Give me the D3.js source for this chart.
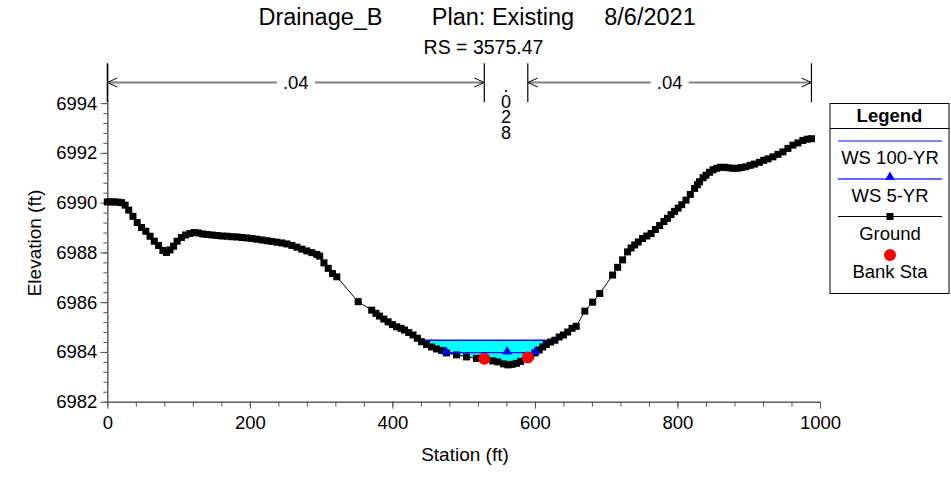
<!DOCTYPE html>
<html><head><meta charset="utf-8">
<script src="https://cdn.jsdelivr.net/npm/d3@7"></script>
<style>body{margin:0;background:#fff}svg{display:block;font-family:"Liberation Sans",Arial,sans-serif}</style>
</head><body><svg id="c" width="951" height="477"></svg>
<script>
// ---- data ----
const groundSta = [0,5,10,15,20,25,30,36,42,48,54,60,66,72,78,83,88,93,98,104,110,116,122,128,134,140,147,154,161,168,175,182,189,196,203,210,217,224,231,238,245,252,259,266,273,280,287,294,298,304,310,316,322,352,371,377,382,388,394,400,406,412,417,423,429,435,441,448,455,462,469,476,490,504,518,530,541,548,556,562,568,574,580,588,594,600,606,611,616,622,628,634,640,646,652,658,670,681,691,709,716,723,730,735,740,745,751,757,763,769,775,781,786,791,796,801,806,812,818,824,828,831,836,840,845,850,855,860,866,872,878,884,890,896,902,908,915,921,927,934,941,948,955,962,969,976,982,988];
const groundElev = [6990.03,6990.03,6990.03,6990.02,6990.0,6989.9,6989.7,6989.45,6989.2,6989.0,6988.85,6988.65,6988.45,6988.28,6988.08,6988.0,6988.1,6988.25,6988.45,6988.6,6988.7,6988.76,6988.8,6988.78,6988.74,6988.72,6988.7,6988.68,6988.66,6988.65,6988.63,6988.62,6988.6,6988.58,6988.56,6988.53,6988.5,6988.47,6988.44,6988.41,6988.38,6988.34,6988.28,6988.21,6988.13,6988.06,6987.99,6987.92,6987.85,6987.58,6987.36,6987.15,6987.02,6986.02,6985.68,6985.55,6985.44,6985.32,6985.21,6985.1,6985.01,6984.95,6984.88,6984.78,6984.68,6984.55,6984.41,6984.3,6984.2,6984.12,6984.06,6983.96,6983.88,6983.8,6983.74,6983.72,6983.64,6983.6,6983.52,6983.48,6983.5,6983.54,6983.62,6983.74,6983.85,6983.96,6984.08,6984.2,6984.3,6984.4,6984.47,6984.6,6984.68,6984.8,6984.95,6985.03,6985.64,6986.0,6986.35,6987.09,6987.4,6987.7,6988.02,6988.18,6988.3,6988.42,6988.56,6988.66,6988.76,6988.92,6989.08,6989.24,6989.37,6989.52,6989.65,6989.78,6989.92,6990.1,6990.33,6990.57,6990.72,6990.84,6991.0,6991.1,6991.22,6991.32,6991.38,6991.42,6991.42,6991.4,6991.38,6991.38,6991.41,6991.44,6991.5,6991.55,6991.62,6991.7,6991.76,6991.84,6991.94,6992.04,6992.18,6992.31,6992.4,6992.5,6992.55,6992.57];
const bankSta = [529, 590];
const ws100Elev = 6984.47;
const ws5Elev = 6983.97;
const ws5MidMarkerSta = [561];
const nValues = [".04", ".028", ".04"];
const nBreakSta = [0, 529, 590, 988];
const xTickValues = [0, 200, 400, 600, 800, 1000];
const yTickValues = [6982, 6984, 6986, 6988, 6990, 6992, 6994];
const legendLabels = ["WS 100-YR", "WS 5-YR", "Ground", "Bank Sta"];
const titleParts = ["Drainage_B", "Plan: Existing", "8/6/2021"];
const subtitle = "RS = 3575.47";

// ---- setup ----
const svg = d3.select("#c");
const x = d3.scaleLinear().domain([0, 1000]).range([107.3, 820]);
const y = d3.scaleLinear().domain([6982, 6995.6]).range([401.7, 63.3]);
const ground = groundSta.map((s, i) => ({s, e: groundElev[i]}));
const groundAt = s => {
  for (let i = 0; i < ground.length - 1; i++) {
    const a = ground[i], b = ground[i+1];
    if (s >= a.s && s <= b.s) return a.e + (b.e - a.e) * (s - a.s) / (b.s - a.s);
  }
  return ground[ground.length-1].e;
};

function wetSection(w) {
  let imin = 0;
  ground.forEach((p, i) => { if (p.e < ground[imin].e) imin = i; });
  let li = imin; while (li > 0 && ground[li-1].e < w) li--;
  let ri = imin; while (ri < ground.length-1 && ground[ri+1].e < w) ri++;
  const a = ground[li-1], b = ground[li];
  const sl = a.s + (w - a.e) * (b.s - a.s) / (b.e - a.e);
  const c = ground[ri], d = ground[ri+1];
  const sr = c.s + (w - c.e) * (d.s - c.s) / (d.e - c.e);
  const pts = [{s: sl, e: w}].concat(ground.slice(li, ri+1)).concat([{s: sr, e: w}]);
  return {sl, sr, pts};
}

// ---- title ----
const tx = [320.5, 503, 650];
titleParts.forEach((t, i) => svg.append("text").attr("x", tx[i]).attr("y", 25)
  .attr("text-anchor", "middle").attr("font-size", 23.5).attr("fill", "#000").text(t));
svg.append("text").attr("x", 483.5).attr("y", 54).attr("text-anchor", "middle")
  .attr("font-size", 19.5).text(subtitle);

// ---- axes ----
const yMinor = d3.range(6982, 6994.01, 0.4);
const xMinor = d3.range(0, 1000.1, 40);
svg.append("g").attr("transform", "translate(107.3,0)")
  .call(d3.axisLeft(y).tickValues(yMinor).tickSize(4).tickSizeOuter(0).tickFormat(""))
  .call(g => g.selectAll("path,line").attr("stroke", "#555"));
svg.append("g").attr("transform", "translate(107.3,0)")
  .call(d3.axisLeft(y).tickValues(yTickValues).tickSize(7).tickSizeOuter(0).tickPadding(3).tickFormat(d3.format("d")))
  .call(g => { g.selectAll("path,line").attr("stroke", "#555");
    g.selectAll("text").attr("font-size", 18.5).attr("fill", "#000").attr("font-family", "Liberation Sans, Arial"); });
svg.append("g").attr("transform", "translate(0,401.7)")
  .call(d3.axisBottom(x).tickValues(xMinor).tickSize(5).tickSizeOuter(0).tickFormat(""))
  .call(g => g.selectAll("path,line").attr("stroke", "#555"));
svg.append("g").attr("transform", "translate(0,401.7)")
  .call(d3.axisBottom(x).tickValues(xTickValues).tickSize(7).tickSizeOuter(0).tickPadding(7).tickFormat(d3.format("d")))
  .call(g => { g.selectAll("path,line").attr("stroke", "#555");
    g.selectAll("text").attr("font-size", 18.5).attr("fill", "#000").attr("font-family", "Liberation Sans, Arial"); });

svg.append("text").attr("x", 465).attr("y", 461).attr("text-anchor", "middle")
  .attr("font-size", 19).text("Station (ft)");
svg.append("text").attr("transform", "translate(41,243) rotate(-90)").attr("text-anchor", "middle")
  .attr("font-size", 19).text("Elevation (ft)");

// ---- Manning's n brackets ----
const barTop = 63.3, barBot = 102, arrowY = 82.5;
nBreakSta.forEach(s => svg.append("line").attr("x1", x(s)).attr("x2", x(s))
  .attr("y1", barTop).attr("y2", barBot).attr("stroke", "#000").attr("stroke-width", 1.2));
const chevron = (tipX, dir) => svg.append("path")
  .attr("d", `M${tipX + dir*10},${arrowY-4.5}L${tipX},${arrowY}L${tipX + dir*10},${arrowY+4.5}`)
  .attr("fill", "none").attr("stroke", "#000").attr("stroke-width", 1);
[[0, 1], [2, 3]].forEach(([a, b], k) => {
  const xa = x(nBreakSta[a]), xb = x(nBreakSta[b]);
  const mid = (xa + xb) / 2;
  const label = nValues[k === 0 ? 0 : 2];
  const half = 19;
  svg.append("line").attr("x1", xa).attr("x2", mid - half).attr("y1", arrowY).attr("y2", arrowY)
    .attr("stroke", "#808080").attr("stroke-width", 2);
  svg.append("line").attr("x1", mid + half).attr("x2", xb).attr("y1", arrowY).attr("y2", arrowY)
    .attr("stroke", "#808080").attr("stroke-width", 2);
  svg.append("text").attr("x", mid).attr("y", arrowY + 6.5).attr("text-anchor", "middle")
    .attr("font-size", 18.5).text(label);
  chevron(xa, 1); chevron(xb, -1);
});
// vertical stacked centre value (one text, stacked characters)
const cMid = (x(nBreakSta[1]) + x(nBreakSta[2])) / 2;
const vt = svg.append("text").attr("x", cMid).attr("y", 92).attr("text-anchor", "middle").attr("font-size", 18);
nValues[1].split("").forEach((ch, i) => vt.append("tspan").attr("x", cMid).attr("dy", i === 0 ? 0 : 15.7).text(ch));

// ---- water ----
const ws100 = wetSection(ws100Elev);
const ws5 = wetSection(ws5Elev);
const line = d3.line().x(d => x(d.s)).y(d => y(d.e));
svg.append("path").attr("d", line(ws100.pts) + "Z").attr("fill", "#00FFFF").attr("stroke", "none");
svg.append("line").attr("x1", x(ws100.sl)).attr("x2", x(ws100.sr)).attr("y1", y(ws100Elev)).attr("y2", y(ws100Elev))
  .attr("stroke", "#0000FF").attr("stroke-width", 1.6);

// ---- ground ----
svg.append("path").attr("d", line(ground)).attr("fill", "none").attr("stroke", "#000").attr("stroke-width", 1);
svg.append("g").selectAll("rect").data(ground).join("rect")
  .attr("x", d => x(d.s) - 3.5).attr("y", d => y(d.e) - 3.5).attr("width", 7).attr("height", 7).attr("fill", "#000");

svg.append("line").attr("x1", x(ws5.sl)).attr("x2", x(ws5.sr)).attr("y1", y(ws5Elev)).attr("y2", y(ws5Elev))
  .attr("stroke", "#0000FF").attr("stroke-width", 1.2);
const tri = d3.symbol().type(d3.symbolTriangle).size(40);
[ws5.sl].concat(ws5MidMarkerSta).concat([ws5.sr]).forEach(s => svg.append("path").attr("d", tri())
  .attr("transform", `translate(${x(s)},${y(ws5Elev) - 1})`).attr("fill", "#0000FF"));

// bank stations
svg.append("g").selectAll("circle").data(bankSta).join("circle")
  .attr("cx", d => x(d)).attr("cy", d => y(groundAt(d))).attr("r", 6).attr("fill", "#FF0000");

// ---- legend ----
const L = svg.append("g");
L.append("rect").attr("x", 830).attr("y", 103.5).attr("width", 119).attr("height", 190)
  .attr("fill", "#fff").attr("stroke", "#000").attr("stroke-width", 1);
L.append("line").attr("x1", 830).attr("x2", 949).attr("y1", 128.5).attr("y2", 128.5).attr("stroke", "#000");
L.append("text").attr("x", 889.5).attr("y", 122).attr("text-anchor", "middle").attr("font-size", 18.5)
  .attr("font-weight", "bold").text("Legend");
const lx1 = 838, lx2 = 942, lc = 890;
const rowY = [141, 179, 216.5, 255];
L.append("line").attr("x1", lx1).attr("x2", lx2).attr("y1", rowY[0]).attr("y2", rowY[0]).attr("stroke", "#0000FF").attr("stroke-width", 1.2);
L.append("line").attr("x1", lx1).attr("x2", lx2).attr("y1", rowY[1]).attr("y2", rowY[1]).attr("stroke", "#3333FF").attr("stroke-width", 1.6);
L.append("path").attr("d", tri()).attr("transform", `translate(${lc},${rowY[1] - 2})`).attr("fill", "#0000FF");
L.append("line").attr("x1", lx1).attr("x2", lx2).attr("y1", rowY[2]).attr("y2", rowY[2]).attr("stroke", "#000").attr("stroke-width", 1);
L.append("rect").attr("x", lc - 3.5).attr("y", rowY[2] - 3.5).attr("width", 7).attr("height", 7).attr("fill", "#000");
L.append("circle").attr("cx", lc).attr("cy", rowY[3]).attr("r", 6).attr("fill", "#FF0000");
legendLabels.forEach((t, i) => L.append("text").attr("x", lc).attr("y", rowY[i] + 23)
  .attr("text-anchor", "middle").attr("font-size", 18.5).text(t));
</script></body></html>
